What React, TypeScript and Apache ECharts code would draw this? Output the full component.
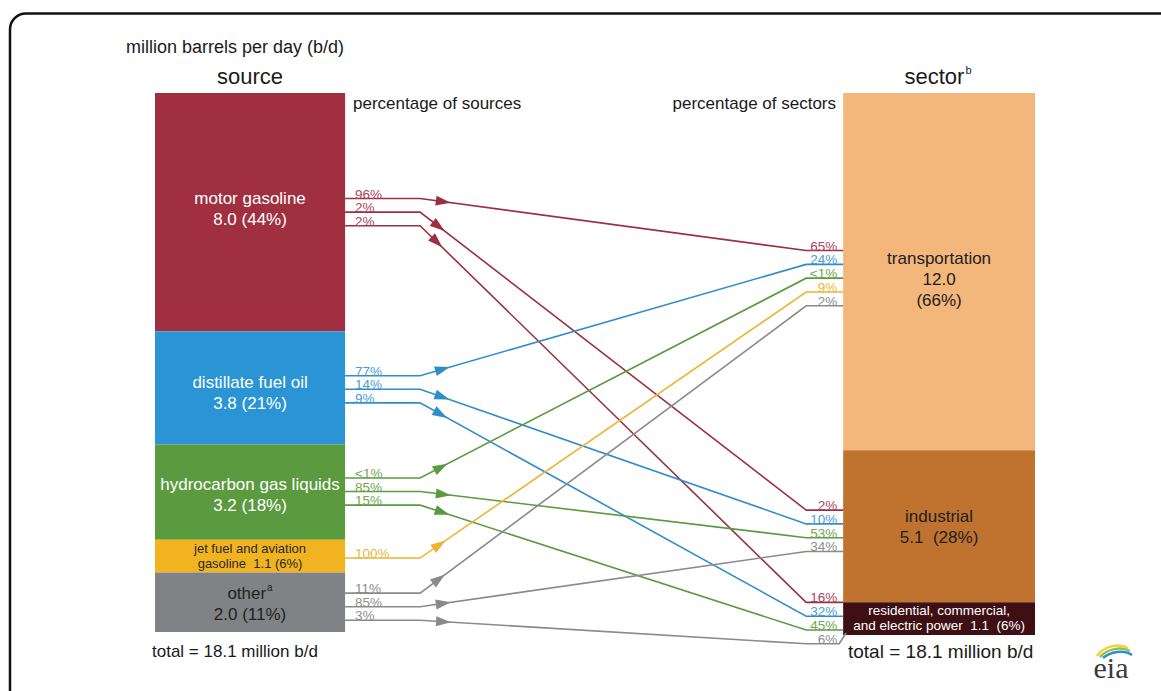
import React, { useEffect, useRef } from 'react';
import * as echarts from 'echarts';

// ---------- data ----------
const sourceNames = ['motor gasoline', 'distillate fuel oil', 'hydrocarbon gas liquids', 'jet fuel and aviation\ngasoline', 'other'];
const sourceValues = [8.0, 3.8, 3.2, 1.1, 2.0];
const sourceShares = ['44%', '21%', '18%', '6%', '11%'];

const sectorNames = ['transportation', 'industrial', 'residential, commercial,\nand electric power'];
const sectorValues = [12.0, 5.1, 1.1];
const sectorShares = ['66%', '28%', '6%'];

// flows: source index -> sector index
const flowFrom = [0, 0, 0, 1, 1, 1, 2, 2, 2, 3, 4, 4, 4];
const flowTo = [0, 1, 2, 0, 1, 2, 0, 1, 2, 0, 0, 1, 2];
const shareOfSource = ['96%', '2%', '2%', '77%', '14%', '9%', '<1%', '85%', '15%', '100%', '11%', '85%', '3%'];
const shareOfSector = ['65%', '2%', '16%', '24%', '10%', '32%', '<1%', '53%', '45%', '9%', '2%', '34%', '6%'];

const totalText = 'total = 18.1 million b/d';
const unitText = 'million barrels per day (b/d)';

// ---------- styles ----------
const FONT = '"Liberation Sans", Arial, Helvetica, sans-serif';
const sourceColors = ['#a0303f', '#2a94d4', '#5b9a3e', '#f1b31f', '#808285'];
const lineColors = ['#9c3042', '#2f8ec8', '#5a9a40', '#ebb532', '#8a8a8a'];
const labelColors = ['#a8455a', '#4a9dd2', '#6fa650', '#e8b83a', '#8e8e8e'];
const sourceTextColors = ['#ffffff', '#ffffff', '#ffffff', '#2a2a2a', '#222222'];
const sectorColors = ['#f3b67b', '#bf732e', '#3e1014'];
const sectorTextColors = ['#1e1e1e', '#1e1e1e', '#ffffff'];

const SRC_X0 = 0, SRC_X1 = 21.6, SEC_X0 = 78.2, SEC_X1 = 100;
const srcNudge = [0, 1.5, -0.5, 2, 4.5];
const secNudge = [6.5, 4.5, 4.5];
const srcTextNudge = [-3, 5, 3, 0, 1.5];
const secTextNudge = [8, 1, -1];

const cum = (arr: number[]) => arr.map((_, i) => arr.slice(0, i).reduce((a, b) => a + b, 0));
const srcStart = cum(sourceValues);
const secStart = cum(sectorValues);
const srcSlot = flowFrom.map((s, k) => flowFrom.slice(0, k).filter((x) => x === s).length);
const srcCount = sourceValues.map((_, i) => flowFrom.filter((x) => x === i).length);
const secSlot = flowTo.map((t, k) => flowTo.slice(0, k).filter((x) => x === t).length);
const secCount = sectorValues.map((_, i) => flowTo.filter((x) => x === i).length);

function sourceLabel(i: number) {
  const v = sourceValues[i].toFixed(1);
  if (i === 3) return `{s|${sourceNames[i]}  ${v} (${sourceShares[i]})}`;
  if (i === 4) return `{b|${sourceNames[i]}}{sup|a}\n{b|${v} (${sourceShares[i]})}`;
  return `{b|${sourceNames[i]}}\n{b|${v} (${sourceShares[i]})}`;
}
function sectorLabel(i: number) {
  const v = sectorValues[i].toFixed(1);
  if (i === 0) return `{b|${sectorNames[i]}}\n{b|${v}}\n{b|(${sectorShares[i]})}`;
  if (i === 1) return `{b|${sectorNames[i]}}\n{b|${v}  (${sectorShares[i]})}`;
  return `{s|${sectorNames[i]}  ${v}  (${sectorShares[i]})}`;
}

function bandRender(isSource: boolean) {
  return (params: any, api: any) => {
    const i = api.value(0);
    const x0 = isSource ? SRC_X0 : SEC_X0;
    const x1 = isSource ? SRC_X1 : SEC_X1;
    const a = api.coord([x0, api.value(1)]);
    const b = api.coord([x1, api.value(2)]);
    const fill = isSource ? sourceColors[i] : sectorColors[i];
    const tc = isSource ? sourceTextColors[i] : sectorTextColors[i];
    const text = isSource ? sourceLabel(i) : sectorLabel(i);
    const dy = isSource ? srcTextNudge[i] : secTextNudge[i];
    return {
      type: 'group',
      children: [
        { type: 'rect', shape: { x: a[0], y: a[1], width: b[0] - a[0], height: b[1] - a[1] }, style: { fill } },
        {
          type: 'text',
          x: (a[0] + b[0]) / 2,
          y: (a[1] + b[1]) / 2 + dy,
          style: {
            text,
            align: 'center',
            verticalAlign: 'middle',
            fill: tc,
            fontFamily: FONT,
            rich: {
              b: { fontSize: 17, lineHeight: 21, fill: tc, fontFamily: FONT },
              s: { fontSize: isSource ? 13 : 13.5, lineHeight: 15, fill: tc, fontFamily: FONT, align: 'center' },
              sup: { fontSize: 10, lineHeight: 21, verticalAlign: 'top', fill: tc, fontFamily: FONT, padding: [0, 0, 8, 1] },
            },
          },
        },
      ],
    };
  };
}

function flowRender(params: any, api: any) {
  const k = params.dataIndex;
  const s = flowFrom[k];
  const t = flowTo[k];
  const sc = api.coord([SRC_X1, api.value(0)]);
  const tc = api.coord([SEC_X0, api.value(1)]);
  const tBottom = api.coord([SEC_X0, secStart[t] + sectorValues[t]])[1];
  const y0 = sc[1] + (srcSlot[k] - (srcCount[s] - 1) / 2) * 13.6 + srcNudge[s];
  const y1 = tc[1] + (secSlot[k] - (secCount[t] - 1) / 2) * 13.8 + secNudge[t];
  const x0 = sc[0];
  const x3 = tc[0];
  const x1 = x0 + 75;
  const x2 = x3 - 37;
  const pts: number[][] = [[x0, y0], [x1, y0], [x2, y1]];
  if (y1 > tBottom) {
    pts.push([x3 - 4, y1]);
    pts.push([x3 + 3, tBottom - 2]);
  } else {
    pts.push([x3, y1]);
  }
  const dx = x2 - x1;
  const dyy = y1 - y0;
  const len = Math.sqrt(dx * dx + dyy * dyy);
  const ux = dx / len, uy = dyy / len;
  const nx = -uy, ny = ux;
  const tip = [x1 + ux * 31, y0 + uy * 31];
  const base = [x1 + ux * 16, y0 + uy * 16];
  const col = lineColors[s];
  const lc = labelColors[s];
  return {
    type: 'group',
    children: [
      { type: 'polyline', shape: { points: pts }, style: { stroke: col, lineWidth: 1.6, fill: 'none' } },
      {
        type: 'polygon',
        shape: { points: [tip, [base[0] + nx * 5, base[1] + ny * 5], [base[0] - nx * 5, base[1] - ny * 5]] },
        style: { fill: col },
      },
      {
        type: 'text',
        x: x0 + 10,
        y: y0 + 2.5,
        style: { text: shareOfSource[k], fill: lc, fontSize: 13.5, fontFamily: FONT, align: 'left', verticalAlign: 'bottom' },
      },
      {
        type: 'text',
        x: x3 - 6,
        y: y1 + 2.5,
        style: { text: shareOfSector[k], fill: lc, fontSize: 13.5, fontFamily: FONT, align: 'right', verticalAlign: 'bottom' },
      },
    ],
  };
}

function txt(x: number, y: number, text: string, size: number, align: string, extra: any = {}) {
  return {
    type: 'text',
    x,
    y,
    style: {
      text,
      fill: '#1a1a1a',
      font: `${size}px ${FONT}`,
      fontSize: size,
      fontFamily: FONT,
      align,
      textAlign: align,
      verticalAlign: 'middle',
      textVerticalAlign: 'middle',
      ...extra,
    },
  };
}

export default function App() {
  const ref = useRef<HTMLDivElement>(null);
  useEffect(() => {
    if (!ref.current) return;
    const chart = echarts.init(ref.current, undefined, { renderer: 'svg' });
    const option: any = {
      animation: false,
      backgroundColor: '#ffffff',
      grid: { left: 155, top: 93, width: 880, height: 539 },
      xAxis: { type: 'value', min: 0, max: 100, show: false },
      yAxis: { type: 'value', min: 0, max: 18.1, inverse: true, show: false },
      graphic: [
        { type: 'rect', shape: { x: 10, y: 13.5, width: 1180, height: 720, r: 16 }, style: { fill: 'none', stroke: '#111', lineWidth: 2.5 }, silent: true },
        txt(126, 47, unitText, 18, 'left'),
        txt(250, 76, 'source', 22, 'center'),
        {
          type: 'text',
          x: 938,
          y: 76,
          style: {
            text: '{a|sector}{b|b}',
            align: 'center',
            verticalAlign: 'middle',
            textAlign: 'center',
            textVerticalAlign: 'middle',
            rich: {
              a: { fontSize: 22, fontFamily: FONT, fill: '#1a1a1a', lineHeight: 24 },
              b: { fontSize: 11, fontFamily: FONT, fill: '#1a1a1a', lineHeight: 24, verticalAlign: 'top', padding: [0, 0, 10, 1] },
            },
          },
        },
        txt(353, 103, 'percentage of sources', 17, 'left'),
        txt(836, 103, 'percentage of sectors', 17, 'right'),
        txt(152, 651, totalText, 17, 'left'),
        txt(848, 651, totalText, 19, 'left'),
        {
          type: 'text',
          x: 1111,
          y: 667,
          style: { text: 'eia', font: '30px "Liberation Serif", "DejaVu Serif", serif', fontSize: 30, fontFamily: '"Liberation Serif", serif', fill: '#3a3a3a', align: 'center', textAlign: 'center', verticalAlign: 'middle', textVerticalAlign: 'middle' },
        },
        { type: 'bezierCurve', shape: { x1: 1097, y1: 656, x2: 1128, y2: 648, cpx1: 1104, cpy1: 646, cpx2: 1118, cpy2: 643 }, style: { stroke: '#f2d13c', lineWidth: 2.5, fill: 'none' } },
        { type: 'bezierCurve', shape: { x1: 1100, y1: 657, x2: 1130, y2: 651, cpx1: 1107, cpy1: 649, cpx2: 1121, cpy2: 646 }, style: { stroke: '#8cc54a', lineWidth: 2.5, fill: 'none' } },
        { type: 'bezierCurve', shape: { x1: 1103, y1: 658, x2: 1132, y2: 655, cpx1: 1110, cpy1: 652, cpx2: 1124, cpy2: 649 }, style: { stroke: '#2d8fd0', lineWidth: 2.5, fill: 'none' } },
      ],
      series: [
        {
          type: 'custom',
          name: 'source',
          coordinateSystem: 'cartesian2d',
          data: sourceValues.map((v, i) => [i, srcStart[i], srcStart[i] + v]),
          encode: { x: 0, y: [1, 2] },
          renderItem: bandRender(true),
          z: 2,
        },
        {
          type: 'custom',
          name: 'sector',
          coordinateSystem: 'cartesian2d',
          data: sectorValues.map((v, i) => [i, secStart[i], secStart[i] + v]),
          encode: { x: 0, y: [1, 2] },
          renderItem: bandRender(false),
          z: 2,
        },
        {
          type: 'custom',
          name: 'flows',
          coordinateSystem: 'cartesian2d',
          data: flowFrom.map((s, k) => [srcStart[s] + sourceValues[s] / 2, secStart[flowTo[k]] + sectorValues[flowTo[k]] / 2]),
          encode: { y: [0, 1] },
          renderItem: flowRender,
          z: 3,
        },
      ],
    };
    chart.setOption(option);
    return () => chart.dispose();
  }, []);
  return <div ref={ref} style={{ position: 'absolute', left: 0, top: 0, width: 1161, height: 691, background: '#fff' }} />;
}
